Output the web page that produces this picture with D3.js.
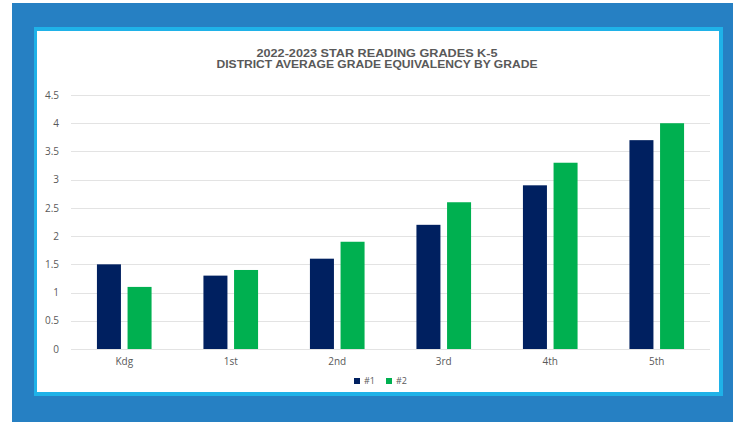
<!DOCTYPE html>
<html>
<head>
<meta charset="utf-8">
<script src="https://cdn.jsdelivr.net/npm/d3@7"></script>
<style>
    html, body { margin: 0; padding: 0; background: #fff; }
    svg { display: block; }
    text { font-family: "Open Sans", "Liberation Sans", sans-serif; }
</style>
</head>
<body>
<div id="chart"></div>
<script>
// chart data
const grades = ["Kdg", "1st", "2nd", "3rd", "4th", "5th"];
const seriesNames = ["#1", "#2"];
const series1 = [1.5, 1.3, 1.6, 2.2, 2.9, 3.7];
const series2 = [1.1, 1.4, 1.9, 2.6, 3.3, 4.0];
const yTicks = [0, 0.5, 1, 1.5, 2, 2.5, 3, 3.5, 4, 4.5];
const titleLines = ["2022-2023 STAR READING GRADES K-5", "DISTRICT AVERAGE GRADE EQUIVALENCY BY GRADE"];

const colors = { "#1": "#002060", "#2": "#00b050" };
const W = 733, H = 422;

const svg = d3.select("#chart").append("svg")
    .attr("width", W)
    .attr("height", H);

// picture frame: dark blue, cyan edge, white card
svg.append("rect").attr("x", 12).attr("y", 3).attr("width", W - 12).attr("height", H - 3)
    .attr("fill", "#2680c3");
svg.append("rect").attr("x", 34).attr("y", 27).attr("width", 689).attr("height", 369)
    .attr("fill", "#1fb2e8");
svg.append("rect").attr("x", 37).attr("y", 31).attr("width", 682).attr("height", 361)
    .attr("fill", "#ffffff");

const plot = { left: 71, right: 710, top: 95, bottom: 349 };

const x0 = d3.scaleBand()
    .domain(grades)
    .range([plot.left, plot.right])
    .paddingInner(0.487)
    .paddingOuter(0.2435);

const x1 = d3.scaleBand()
    .domain(seriesNames)
    .range([0, x0.bandwidth()])
    .paddingInner(0.216);

const y = d3.scaleLinear()
    .domain([0, 4.5])
    .range([plot.bottom, plot.top]);

// gridlines
svg.append("g")
    .selectAll("line")
    .data(yTicks)
    .enter().append("line")
    .attr("x1", plot.left)
    .attr("x2", plot.right)
    .attr("y1", d => Math.round(y(d)) + 0.5)
    .attr("y2", d => Math.round(y(d)) + 0.5)
    .attr("stroke", "#e3e3e3")
    .attr("stroke-width", 1);

// y axis labels
const yAxis = svg.append("g")
    .attr("transform", `translate(${plot.left},0)`)
    .call(d3.axisLeft(y).tickValues(yTicks).tickSize(0).tickPadding(12).tickFormat(d3.format("")));
yAxis.select(".domain").remove();
yAxis.selectAll("text")
    .style("font-size", "10px")
    .style("fill", "#595959");

// x axis labels
const xAxis = svg.append("g")
    .attr("transform", `translate(0,${plot.bottom})`)
    .call(d3.axisBottom(x0).tickSize(0).tickPadding(9));
xAxis.select(".domain").remove();
xAxis.selectAll("text")
    .style("font-size", "10px")
    .style("fill", "#595959");

// bars
const rows = grades.map((g, i) => ({ grade: g, values: [
    { key: "#1", value: series1[i] },
    { key: "#2", value: series2[i] }
] }));

svg.append("g")
    .selectAll("g")
    .data(rows)
    .enter().append("g")
    .attr("transform", d => `translate(${x0(d.grade)},0)`)
    .selectAll("rect")
    .data(d => d.values)
    .enter().append("rect")
    .attr("x", d => x1(d.key))
    .attr("y", d => y(d.value))
    .attr("width", x1.bandwidth())
    .attr("height", d => y(0) - y(d.value))
    .attr("fill", d => colors[d.key]);

// title: two lines, stretched to the widths seen in the picture
svg.append("g")
    .selectAll("text")
    .data(titleLines)
    .enter().append("text")
    .attr("x", 377)
    .attr("y", (d, i) => 56.5 + i * 11.5)
    .attr("text-anchor", "middle")
    .attr("textLength", (d, i) => i === 0 ? 241 : 321)
    .attr("lengthAdjust", "spacingAndGlyphs")
    .style("font-family", "'Liberation Sans', Arial, sans-serif")
    .style("font-size", "10px")
    .style("font-weight", "bold")
    .style("fill", "#595959")
    .text(d => d);

// legend
const legend = svg.append("g")
    .attr("transform", "translate(354,381)");
const items = legend.selectAll("g")
    .data(seriesNames)
    .enter().append("g")
    .attr("transform", (d, i) => `translate(${i * 32},0)`);
items.append("rect")
    .attr("x", 0)
    .attr("y", -3)
    .attr("width", 6)
    .attr("height", 6)
    .attr("fill", d => colors[d]);
items.append("text")
    .attr("x", 10)
    .attr("y", 3)
    .style("font-size", "9px")
    .style("fill", "#595959")
    .text(d => d);
</script>
</body>
</html>
